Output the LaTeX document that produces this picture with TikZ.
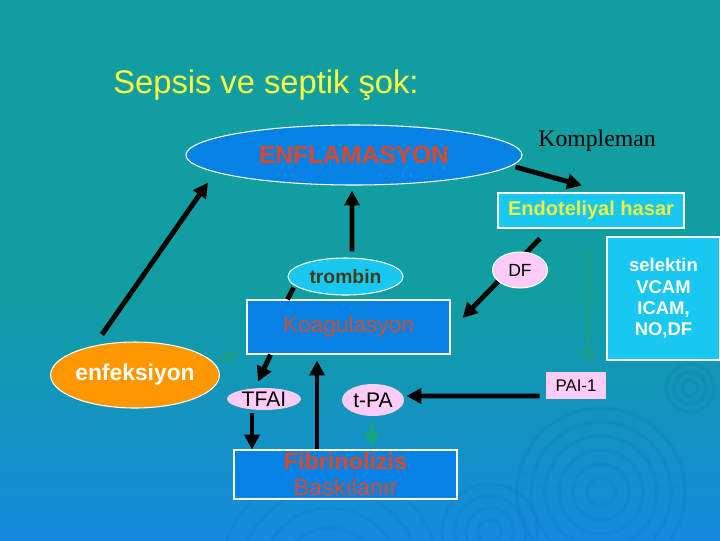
\documentclass[tikz,border=0pt]{standalone}
\usepackage{fontspec}
\setmainfont{Liberation Sans}
\newfontfamily\komfont{Liberation Serif}
\usetikzlibrary{shapes.geometric,arrows.meta}
\tikzset{>={Triangle[length=8.5pt,width=8.5pt]}}
\definecolor{bgteal}{RGB}{16,158,160}
\definecolor{bgblue}{RGB}{22,138,222}
\definecolor{ringblue}{RGB}{0,96,170}
\definecolor{boxblue}{RGB}{6,130,228}
\definecolor{boxcyan}{RGB}{24,200,240}
\definecolor{pinkish}{RGB}{255,204,248}
\definecolor{orangish}{RGB}{255,152,0}
\definecolor{redtext}{RGB}{222,72,40}
\definecolor{brick}{RGB}{204,78,56}
\definecolor{lemon}{RGB}{255,255,64}
\definecolor{lemontwo}{RGB}{236,240,64}
\definecolor{olive}{RGB}{64,60,26}
\definecolor{faint}{RGB}{26,156,142}
\definecolor{tealgreen}{RGB}{20,166,128}
\newdimen\pxu \pxu=0.2mm
\newcommand{\boy}[2]{\fontsize{#1}{#2}\selectfont}
\tikzset{
  oval/.style={ellipse, draw=white, line width=0.6pt, inner sep=0pt},
  blok/.style={rectangle, draw=white, line width=0.6pt, inner sep=0pt},
  pembe/.style={ellipse, fill=pinkish, inner sep=0pt},
  pil/.style={->, line width=2.8pt},
  soluk/.style={pil, draw=faint},
  yesil/.style={pil, draw=tealgreen},
  halka/.style={draw=ringblue, line width=2pt, opacity=0.1},
}

\begin{document}
\begin{tikzpicture}[x=0.2mm,y=-0.2mm]
  % background
  \fill[bgteal] (0,0) rectangle (720,290);
  \shade[top color=bgteal, bottom color=bgblue] (0,290) rectangle (720,540);
  \useasboundingbox (0,0) rectangle (720,540);
  \begin{scope}
    \clip (0,0) rectangle (720,540);
    \foreach \r in {14,28,...,84} \draw[halka] (601,492) circle (\r);
    \foreach \r in {12,24,...,48} \draw[halka] (490,532) circle (\r);
    \foreach \r in {30,50,...,110} \draw[halka] (330,578) circle (\r);
    \foreach \r in {8,16,24} \draw[halka] (690,388) circle (\r);
  \end{scope}
  % title
  \node[anchor=base west, inner sep=0pt, text=lemon, font=\boy{18.6}{22}] (baslik) at (113,93) {Sepsis ve septik şok:};
  % nodes
  \node[oval, fill=boxblue, minimum width=336\pxu, minimum height=60\pxu, text=redtext, font=\bfseries\boy{14}{17}] (enf) at (354,155) {ENFLAMASYON};
  \node[font=\komfont\boy{13.5}{16}] (komp) at (597,141) {Kompleman};
  \node[blok, fill=boxcyan, minimum width=186\pxu, minimum height=35\pxu, text=lemontwo, font=\bfseries\boy{11.4}{14}] (endo) at (591,210.5) {Endoteliyal hasar};
  \node[oval, fill=boxcyan, minimum width=115\pxu, minimum height=37\pxu, text=olive, font=\bfseries\boy{11}{13}] (trombin) at (345.5,276.5) {trombin};
  \node[blok, fill=boxblue, minimum width=203\pxu, minimum height=54\pxu, text=brick, font=\boy{12.9}{15}] (koag) at (348.5,327) {Koagulasyon};
  \node[blok, fill=boxcyan, minimum width=113\pxu, minimum height=123\pxu, text=white, align=center, font=\bfseries\boy{10.5}{12.2}] (selektin) at (663.5,298.5) {selektin\\VCAM\\ICAM,\\NO,DF};
  \node[oval, fill=orangish, minimum width=138\pxu, minimum height=66\pxu, text=white, font=\bfseries\boy{13}{15}] (enfek) at (135,375) {enfeksiyon};
  \node[rectangle, fill=pinkish, minimum width=60\pxu, minimum height=27\pxu, inner sep=0pt, font=\boy{9.6}{12}] (pai) at (576,385.5) {PAI-1};
  \node[pembe, minimum width=74\pxu, minimum height=22\pxu, font=\boy{12}{14}] (tfai) at (264,399) {TFAI};
  \node[pembe, minimum width=62\pxu, minimum height=32\pxu, font=\boy{12}{14}] (tpa) at (373,400) {t-PA};
  \node[blok, fill=boxblue, minimum width=223\pxu, minimum height=49\pxu, text=redtext, align=center, font=\boy{13.3}{14.7}] (fib) at (345.5,474.5) {{\bfseries Fibrinolizis}\\Baskılanır};
  % arrows
  \draw[pil] ([xshift=-33\pxu,yshift=7\pxu]enfek.north) -- ([xshift=-146\pxu,yshift=3\pxu]enf.south);
  \draw[soluk] ([yshift=15\pxu]enfek.east) -- ([xshift=-7\pxu,yshift=-26\pxu]koag.west);
  \draw[pil, shorten <=6\pxu, shorten >=5\pxu] ([xshift=6.5\pxu]trombin.north) -- ([xshift=-2\pxu]enf.south);
  \draw[line width=2.8pt] ([xshift=-52\pxu,yshift=-11\pxu]trombin.center) -- ([xshift=-61\pxu]koag.north);
  \draw[pil] ([xshift=-7\pxu,yshift=-12\pxu]enf.east) -- ([xshift=-9\pxu,yshift=7\pxu]endo.north);
  \draw[pil] ([xshift=-51\pxu,yshift=-10\pxu]endo.south) -- ([xshift=12\pxu,yshift=9\pxu]koag.east);
  \node[oval, fill=pinkish, minimum width=55\pxu, minimum height=36\pxu, font=\boy{10}{12}] (df) at (520,270) {DF};
  \draw[soluk] ([xshift=-3\pxu,yshift=-17\pxu]endo.south) -- ([xshift=12\pxu,yshift=7\pxu]pai.north);
  \draw[pil] ([xshift=-78\pxu]koag.south) -- ([xshift=-6\pxu,yshift=6\pxu]tfai.north);
  \draw[pil] ([xshift=-12\pxu,yshift=-3\pxu]tfai.south) -- ([xshift=-93.5\pxu]fib.north);
  \draw[pil] ([xshift=-28.5\pxu]fib.north) -- ([xshift=-31.5\pxu,yshift=-6\pxu]koag.south);
  \draw[yesil] ([xshift=-1\pxu,yshift=-7\pxu]tpa.south) -- ([xshift=26.5\pxu,yshift=2\pxu]fib.north);
  \draw[pil] ([xshift=-6\pxu,yshift=-10.5\pxu]pai.west) -- ([xshift=2\pxu,yshift=4\pxu]tpa.east);
\end{tikzpicture}
\end{document}
